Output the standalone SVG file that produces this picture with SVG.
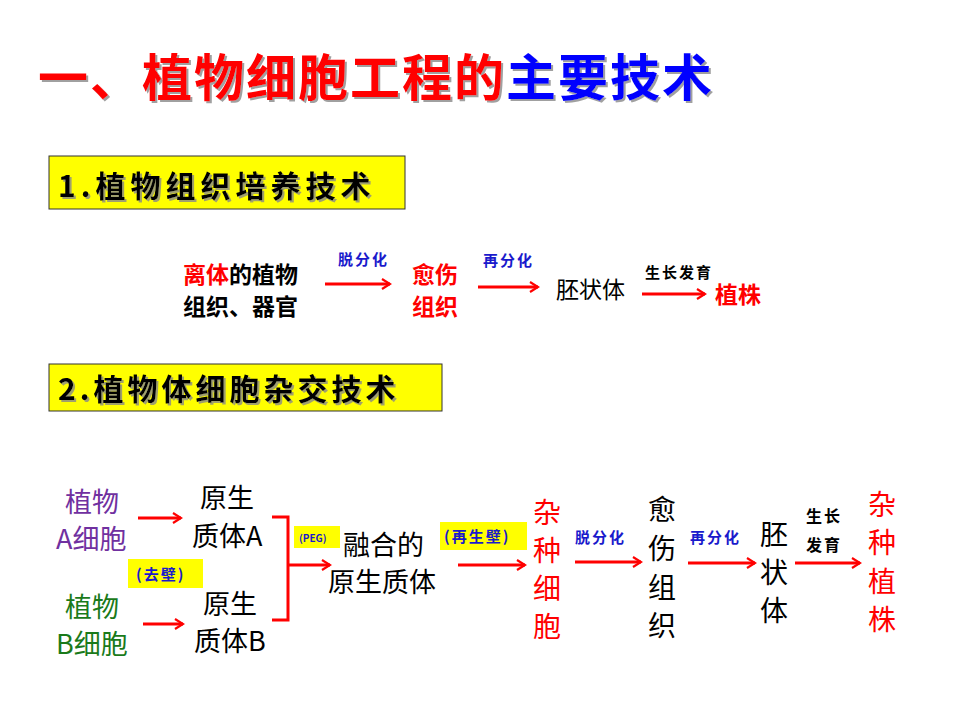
<svg xmlns="http://www.w3.org/2000/svg" width="960" height="720" viewBox="0 0 960 720">
<defs>
<marker id="ah" viewBox="0 0 12 12" refX="10" refY="6" markerWidth="4" markerHeight="4" orient="auto" markerUnits="strokeWidth">
<path d="M2,1 L10,6 L2,11" fill="none" stroke="#ff0000" stroke-width="2.2"/>
</marker>
<filter id="sh"><feDropShadow dx="2" dy="2" stdDeviation="0.5" flood-color="#888" flood-opacity="0.8"/></filter>
</defs>
<style>
text{font-family:"Noto Sans CJK SC","Liberation Sans",sans-serif;}
.b{font-weight:bold}
.lbl{font-size:15px;font-weight:bold;fill:#1a1acc;letter-spacing:2px}
.blk{font-size:15px;font-weight:bold;fill:#000;letter-spacing:2px}
.s1{font-size:23px;font-weight:bold}
.s2{font-size:27px}
.red{fill:#ff0000}
.ar{stroke:#ff0000;stroke-width:3;fill:none;marker-end:url(#ah)}
.hl{fill:#ffff00}
</style>
<rect width="960" height="720" fill="#fff"/>
<g id="title" filter="url(#sh)">
<text x="38" y="96" font-size="50" class="b" letter-spacing="2"><tspan fill="#ff0000">一、植物细胞工程的</tspan><tspan fill="#0000ff">主要技术</tspan></text>
</g>
<g id="sec1">
<rect x="49" y="156" width="356" height="53" fill="#ffff00" stroke="#333" stroke-width="1"/>
<text x="58" y="197" font-size="30" class="b" letter-spacing="5" filter="url(#sh)">1.植物组织培养技术</text>
</g>
<g id="sec2">
<rect x="49" y="364" width="393" height="47" fill="#ffff00" stroke="#333" stroke-width="1"/>
<text x="58" y="400" font-size="30" class="b" letter-spacing="4" filter="url(#sh)">2.植物体细胞杂交技术</text>
</g>
<g id="r1n1" class="s1"><text x="183" y="283"><tspan fill="#ff0000">离体</tspan>的植物</text><text x="183" y="315">组织、器官</text></g>
<g id="r1n2" class="s1"><text x="412" y="283" class="red">愈伤</text><text x="412" y="315" class="red">组织</text></g>
<g id="r1n3"><text x="556" y="298" font-size="23">胚状体</text></g>
<g id="r1n4"><text x="715" y="303" class="s1 red">植株</text></g>
<g id="r1labels">
<text x="338" y="265" class="lbl">脱分化</text>
<text x="483" y="266" class="lbl">再分化</text>
<text x="645" y="278" class="blk">生长发育</text>
</g>
<g id="r2a" class="s2"><text x="65" y="512" fill="#7030a0">植物</text><text x="56" y="549" fill="#7030a0">A细胞</text></g>
<g id="r2b" class="s2"><text x="65" y="617" fill="#1a7a1a">植物</text><text x="56" y="654" fill="#1a7a1a">B细胞</text></g>
<g id="pA" class="s2"><text x="200" y="508">原生</text><text x="192" y="546">质体A</text></g>
<g id="pB" class="s2"><text x="203" y="614">原生</text><text x="194" y="651">质体B</text></g>
<g id="fused" class="s2"><text x="343" y="555">融合的</text><text x="328" y="592">原生质体</text></g>
<g id="hybrid"><g font-size="28" fill="#ff0000"><text x="533" y="523">杂</text><text x="533" y="561">种</text><text x="533" y="599">细</text><text x="533" y="637">胞</text></g></g>
<g id="callus" font-size="28"><text x="648" y="520">愈</text><text x="648" y="559">伤</text><text x="648" y="598">组</text><text x="648" y="636">织</text></g>
<g id="embryo" font-size="28"><text x="760" y="545">胚</text><text x="760" y="583">状</text><text x="760" y="621">体</text></g>
<g id="plant" font-size="28" fill="#ff0000"><text x="868" y="515">杂</text><text x="868" y="553">种</text><text x="868" y="592">植</text><text x="868" y="630">株</text></g>
<g id="r2labels">
<rect x="128" y="559" width="75" height="29" class="hl"/>
<text x="136" y="580" class="lbl">(去壁)</text>
<rect x="294" y="526" width="46" height="22" class="hl"/>
<text x="299" y="542" class="lbl" style="font-size:10px;letter-spacing:0">(PEG)</text>
<rect x="440" y="522" width="87" height="28" class="hl"/>
<text x="444" y="542" class="lbl">(再生壁)</text>
<text x="575" y="543" class="lbl">脱分化</text>
<text x="690" y="543" class="lbl">再分化</text>
<text x="806" y="522" class="blk" style="font-size:16px">生长</text>
<text x="806" y="551" class="blk" style="font-size:16px">发育</text>
</g>
<g id="connectors">
<line x1="325" y1="284" x2="390" y2="284" class="ar"/>
<line x1="478" y1="287" x2="538" y2="287" class="ar"/>
<line x1="642" y1="294" x2="705" y2="294" class="ar"/>
<line x1="138" y1="518" x2="181" y2="518" class="ar"/>
<line x1="143" y1="624" x2="183" y2="624" class="ar"/>
<polyline points="272,517 288,517 288,620 272,620" fill="none" stroke="#ff0000" stroke-width="3"/>
<line x1="288" y1="565" x2="330" y2="565" class="ar"/>
<line x1="458" y1="565" x2="525" y2="565" class="ar"/>
<line x1="575" y1="562" x2="641" y2="562" class="ar"/>
<line x1="688" y1="563" x2="755" y2="563" class="ar"/>
<line x1="795" y1="563" x2="860" y2="563" class="ar"/>
</g>
</svg>
